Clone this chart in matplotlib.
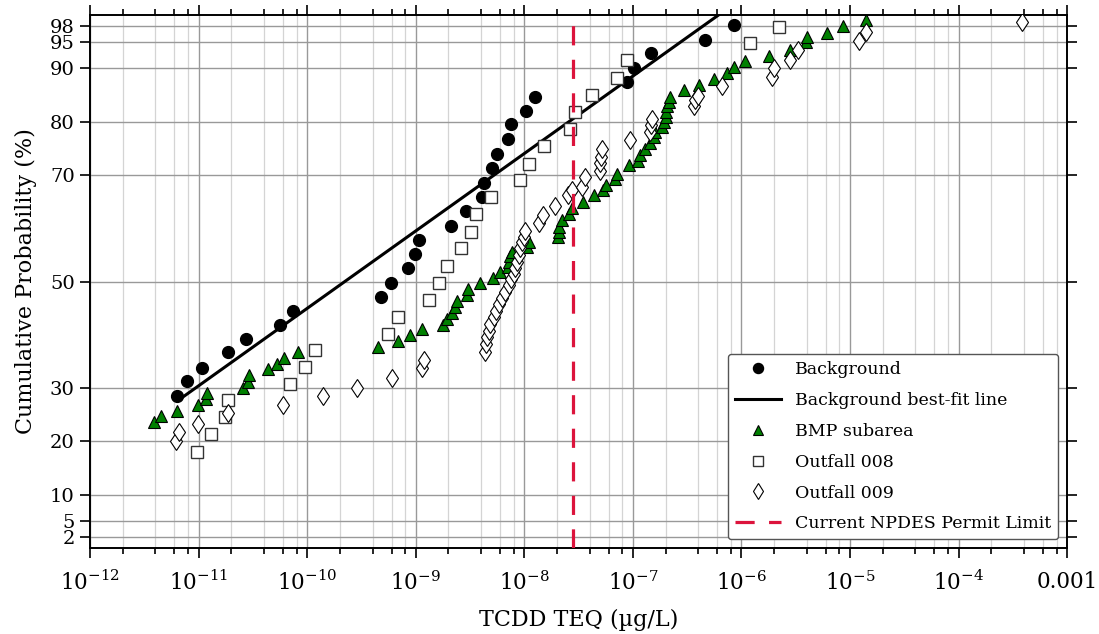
import matplotlib.pyplot as plt

plt.rcParams['font.family'] = ['DejaVu Serif']
plt.rcParams['mathtext.fontset'] = 'dejavuserif'

# background samples (ug/L, cumulative %)
bg_x = [6.30e-12, 7.89e-12, 1.08e-11, 1.86e-11, 2.76e-11, 5.64e-11, 7.33e-11,
        4.81e-10, 5.94e-10, 8.47e-10, 9.88e-10, 1.07e-9, 2.12e-9, 2.90e-9,
        4.04e-9, 4.22e-9, 5.07e-9, 5.60e-9, 7.08e-9, 7.59e-9, 1.04e-8, 1.26e-8,
        8.85e-8, 1.02e-7, 1.47e-7, 4.59e-7, 8.61e-7]
bg_y = [28.5, 31.3, 33.8, 36.7, 39.2, 41.8, 44.4, 47.1, 49.8, 52.5, 55.2, 57.8,
        60.5, 63.2, 65.8, 68.5, 71.3, 74.0, 76.7, 79.5, 82.0, 84.7, 87.4, 90.0,
        92.9, 95.4, 98.2]

# best-fit line end points
fit_x = [6.8e-12, 6.15e-7]
fit_y = [28.0, 100.0]

# BMP subarea
bmp_x = [3.89e-12, 4.49e-12, 6.38e-12, 9.95e-12, 1.17e-11, 1.19e-11, 2.59e-11,
         2.88e-11, 2.92e-11, 4.40e-11, 5.26e-11, 6.14e-11, 8.15e-11, 4.45e-10,
         6.93e-10, 8.89e-10, 1.14e-9, 1.78e-9, 1.94e-9, 2.18e-9, 2.28e-9, 2.40e-9,
         2.96e-9, 3.03e-9, 3.87e-9, 5.15e-9, 6.01e-9, 7.01e-9, 7.16e-9, 7.43e-9,
         7.71e-9, 1.07e-8, 1.10e-8, 2.03e-8, 2.07e-8, 2.11e-8, 2.22e-8, 2.56e-8,
         2.75e-8, 3.44e-8, 4.36e-8, 5.31e-8, 5.66e-8, 6.90e-8, 7.15e-8, 9.14e-8,
         1.11e-7, 1.17e-7, 1.30e-7, 1.45e-7, 1.56e-7, 1.61e-7, 1.86e-7, 1.92e-7,
         2.00e-7, 2.04e-7, 2.07e-7, 2.14e-7, 2.18e-7, 2.99e-7, 4.10e-7, 5.64e-7,
         7.38e-7, 8.61e-7, 1.09e-6, 1.81e-6, 2.79e-6, 3.94e-6, 4.04e-6, 6.17e-6,
         8.59e-6, 1.39e-5]
bmp_y = [23.6, 24.7, 25.8, 26.8, 28.0, 29.1, 30.1, 31.1, 32.4, 33.5, 34.6, 35.7,
         36.8, 37.8, 38.9, 40.0, 41.0, 41.9, 43.0, 44.1, 45.2, 46.3, 47.4, 48.6,
         49.7, 50.7, 51.8, 52.7, 53.6, 54.7, 55.6, 56.5, 57.4, 58.3, 59.3, 60.2,
         61.5, 62.7, 63.8, 64.9, 66.2, 67.1, 68.2, 69.2, 70.2, 71.8, 72.7, 73.8,
         74.9, 76.0, 77.1, 78.0, 79.0, 79.9, 80.8, 81.8, 82.9, 83.7, 84.6, 86.0,
         86.8, 88.0, 89.1, 90.2, 91.3, 92.4, 93.5, 94.9, 95.9, 96.7, 97.9, 99.0]

# Outfall 008
o8_x = [9.75e-12, 1.29e-11, 1.75e-11, 1.86e-11, 6.97e-11, 9.60e-11, 1.19e-10,
        5.61e-10, 6.90e-10, 1.33e-9, 1.65e-9, 1.96e-9, 2.61e-9, 3.25e-9, 3.61e-9,
        4.97e-9, 9.06e-9, 1.10e-8, 1.51e-8, 2.65e-8, 2.91e-8, 4.21e-8, 7.15e-8,
        8.85e-8, 1.21e-6, 2.24e-6]
o8_y = [18.0, 21.3, 24.6, 27.7, 30.8, 33.9, 37.2, 40.2, 43.4, 46.6, 49.8, 53.0,
        56.2, 59.3, 62.6, 65.8, 69.0, 72.1, 75.4, 78.7, 81.8, 85.0, 88.2, 91.5,
        94.7, 97.7]

# Outfall 009
o9_x = [6.17e-12, 6.65e-12, 9.95e-12, 1.88e-11, 6.01e-11, 1.40e-10, 2.89e-10,
        6.04e-10, 1.14e-9, 1.18e-9, 4.38e-9, 4.44e-9, 4.53e-9, 4.69e-9, 4.86e-9,
        5.21e-9, 5.52e-9, 5.79e-9, 6.22e-9, 6.68e-9, 7.16e-9, 7.53e-9, 7.96e-9,
        8.26e-9, 8.57e-9, 8.85e-9, 9.18e-9, 9.53e-9, 9.86e-9, 1.01e-8, 1.36e-8,
        1.49e-8, 1.90e-8, 2.51e-8, 2.75e-8, 3.40e-8, 3.65e-8, 4.94e-8, 5.01e-8,
        5.08e-8, 5.19e-8, 9.48e-8, 1.45e-7, 1.46e-7, 1.50e-7, 3.63e-7, 3.77e-7,
        3.95e-7, 6.64e-7, 1.92e-6, 2.01e-6, 2.79e-6, 3.30e-6, 1.22e-5, 1.40e-5,
        3.81e-4]
o9_y = [20.0, 21.7, 23.3, 25.3, 26.8, 28.5, 30.1, 31.9, 33.7, 35.2, 36.8, 38.3,
        39.6, 40.8, 42.1, 43.3, 44.4, 45.7, 47.0, 48.0, 49.3, 50.4, 51.5, 52.6,
        53.6, 54.9, 56.2, 57.4, 58.3, 59.5, 61.0, 62.5, 64.1, 66.2, 67.2, 67.8,
        69.7, 70.8, 72.2, 73.4, 74.9, 76.5, 78.0, 79.3, 80.5, 83.0, 84.0, 84.9,
        86.6, 88.3, 90.1, 91.5, 93.4, 95.1, 96.8, 98.6]

npdes_limit = 2.8e-8

y_ticks = [2, 5, 10, 20, 30, 50, 70, 80, 90, 95, 98]
x_ticks = [1e-12, 1e-11, 1e-10, 1e-9, 1e-8, 1e-7, 1e-6, 1e-5, 1e-4, 1e-3]
x_ticklabels = [r'$10^{-12}$', r'$10^{-11}$', r'$10^{-10}$', r'$10^{-9}$',
                r'$10^{-8}$', r'$10^{-7}$', r'$10^{-6}$', r'$10^{-5}$',
                r'$10^{-4}$', '0.001']

fig = plt.figure(figsize=(10.99, 6.34), dpi=100)
ax = fig.add_axes([0.0819, 0.1356, 0.8891, 0.8407])

ax.plot(bg_x, bg_y, 'o', color='black', markersize=8.5, label='Background', zorder=3)
ax.plot(fit_x, fit_y, '-', color='black', lw=2.2, label='Background best-fit line', zorder=3)
ax.plot(bmp_x, bmp_y, '^', color='green', mec='black', mew=0.8, markersize=8,
        label='BMP subarea', zorder=3)
ax.plot(o8_x, o8_y, 's', color='white', mec='#333333', mew=1.0, markersize=8.5,
        label='Outfall 008', zorder=3)
ax.plot(o9_x, o9_y, 'd', color='white', mec='black', mew=0.8, markersize=9.5,
        label='Outfall 009', zorder=3)
ax.axvline(npdes_limit, color='#dc143c', lw=2.3, ls=(0, (6, 4.5)),
           label='Current NPDES Permit Limit', zorder=4)

ax.set_xscale('log')
ax.set_xlim(1e-12, 1e-3)
ax.set_ylim(0, 100)
ax.set_xticks(x_ticks)
ax.set_xticklabels(x_ticklabels)
ax.set_xticks([m * 10.0 ** e for e in range(-12, -3) for m in (2, 4, 6, 8)], minor=True)
ax.set_yticks(y_ticks)
ax.set_yticks([], minor=True)

ax.grid(True, which='major', axis='x', color='#999999', lw=1.0)
ax.grid(True, which='minor', axis='x', color='#d4d4d4', lw=0.9)
ax.grid(True, which='major', axis='y', color='#999999', lw=1.0)
ax.set_axisbelow(True)

ax.tick_params(which='both', direction='out', top=True, right=True, width=1.2)
ax.tick_params(which='major', length=7)
ax.tick_params(which='minor', length=4)
ax.tick_params(axis='x', which='major', labelsize=15.5, pad=9.5)
ax.tick_params(axis='y', which='major', labelsize=14, pad=4)
for s in ax.spines.values():
    s.set_linewidth(1.4)

ax.set_xlabel('TCDD TEQ (\u00b5g/L)', fontsize=16, labelpad=10)
ax.set_ylabel('Cumulative Probability (%)', fontsize=16)
ax.yaxis.set_label_coords(-0.054, 0.5)

leg = ax.legend(loc='lower right', fontsize=12.5, handlelength=2.7, handletextpad=0.8,
                labelspacing=0.8, markerscale=0.85, framealpha=1,
                edgecolor='#555555', borderpad=0.4)
leg.get_frame().set_linewidth(1.0)

fig.savefig('out.png', dpi=100)
